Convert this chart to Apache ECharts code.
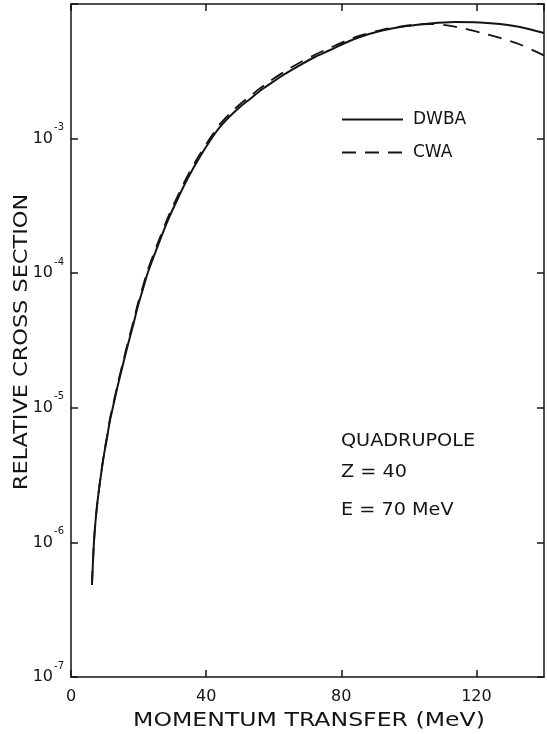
<!DOCTYPE html>
<html>
<head>
<meta charset="utf-8">
<script src="https://cdn.jsdelivr.net/npm/echarts@6/dist/echarts.min.js"></script>
<style>
  html, body { margin: 0; padding: 0; background: #fff; }
  #chart { width: 547px; height: 734px; }
</style>
</head>
<body>
<div id="chart"></div>
<script>
// momentum transfer (MeV)
const momentum = [6.2, 6.8, 7.4, 8, 8.9, 9.8, 10.7, 11.5, 12.4, 13.9, 15.4, 16.9, 18.4, 19.8, 21.3, 22.8, 25.8, 28.7, 31.7, 34.6, 37.6, 41.1, 44.1, 47.1, 50, 53, 55.9, 58.9, 61.9, 64.8, 67.8, 72.2, 76.7, 81.1, 85.5, 91.5, 97.4, 106.3, 113.6, 121, 127, 132.9, 140]
// relative cross section, DWBA (solid)
const dwba = [4.83e-7, 1.01e-6, 1.57e-6, 2.17e-6, 3.22e-6, 4.54e-6, 6.07e-6, 7.98e-6, 1.01e-5, 1.48e-5, 2.11e-5, 2.98e-5, 4.12e-5, 5.7e-5, 7.64e-5, 1.02e-4, 1.62e-4, 2.48e-4, 3.62e-4, 5.09e-4, 6.93e-4, 9.59e-4, 1.22e-3, 1.47e-3, 1.72e-3, 1.97e-3, 2.26e-3, 2.55e-3, 2.87e-3, 3.18e-3, 3.52e-3, 4.04e-3, 4.55e-3, 5.13e-3, 5.69e-3, 6.3e-3, 6.75e-3, 7.16e-3, 7.35e-3, 7.29e-3, 7.1e-3, 6.75e-3, 6.09e-3]
// relative cross section, CWA (dashed)
const cwa = [4.83e-7, 1.01e-6, 1.57e-6, 2.17e-6, 3.25e-6, 4.6e-6, 6.2e-6, 8.2e-6, 1.04e-5, 1.53e-5, 2.19e-5, 3.1e-5, 4.3e-5, 5.95e-5, 8.0e-5, 1.07e-4, 1.7e-4, 2.6e-4, 3.8e-4, 5.35e-4, 7.28e-4, 1.0e-3, 1.28e-3, 1.54e-3, 1.8e-3, 2.06e-3, 2.36e-3, 2.67e-3, 3.0e-3, 3.33e-3, 3.68e-3, 4.2e-3, 4.72e-3, 5.3e-3, 5.83e-3, 6.38e-3, 6.8e-3, 7.1e-3, 6.8e-3, 6.15e-3, 5.6e-3, 5.0e-3, 4.15e-3]
const xTicks = [0, 40, 80, 120]
const notes = ['QUADRUPOLE', 'Z = 40', 'E = 70 MeV']

const font = 'DejaVu Sans'
const ink = '#141414'

const pairs = (ys) => momentum.map((x, i) => [x, ys[i]])

// every side of the box gets an axis line and short inward ticks
const frame = () => ({
  axisLine: { show: true, onZero: false, lineStyle: { color: ink, width: 1.5 } },
  axisTick: { show: true, inside: true, length: 7, lineStyle: { color: ink, width: 1.5 } },
  splitLine: { show: false }
})

const option = {
  backgroundColor: '#fff',
  animation: false,
  grid: { left: 71, right: 3, top: 4, bottom: 57 },
  legend: {
    orient: 'vertical',
    left: 341,
    top: 111,
    padding: 0,
    itemWidth: 61,
    itemHeight: 14,
    itemGap: 16,
    itemStyle: { opacity: 0 },
    textStyle: { fontFamily: font, fontSize: 17, color: ink, padding: [0, 0, 0, 5] },
    data: ['DWBA', 'CWA']
  },
  xAxis: [
    Object.assign({
      type: 'value', min: 0, max: 140, interval: 40, position: 'bottom',
      axisLabel: {
        margin: 12, fontFamily: font, fontSize: 16, color: ink, showMaxLabel: false,
        formatter: (v) => xTicks.indexOf(v) >= 0 ? String(v) : ''
      }
    }, frame()),
    Object.assign({
      type: 'value', min: 0, max: 140, interval: 40, position: 'top',
      axisLabel: { show: false }
    }, frame())
  ],
  yAxis: [
    Object.assign({
      type: 'log', logBase: 10, min: 1e-7, max: 1e-2, position: 'left',
      axisLabel: {
        margin: 7,
        formatter: (v) => {
          const e = Math.round(Math.log10(v))
          return e === -2 ? '' : '{b|10}{s|' + e + '}'
        },
        rich: {
          b: { fontFamily: font, fontSize: 16, lineHeight: 16, color: ink, verticalAlign: 'bottom' },
          s: { fontFamily: font, fontSize: 10, lineHeight: 10, color: ink, verticalAlign: 'bottom', padding: [0, 0, 14, 1] }
        }
      }
    }, frame()),
    Object.assign({
      type: 'log', logBase: 10, min: 1e-7, max: 1e-2, position: 'right',
      axisLabel: { show: false }
    }, frame())
  ],
  graphic: [
    {
      type: 'text', x: 309, y: 721, scaleX: 1.18,
      style: { text: 'MOMENTUM TRANSFER (MeV)', font: '20px "DejaVu Sans"', fill: ink, align: 'center', verticalAlign: 'middle' }
    },
    {
      type: 'text', x: 22, y: 342, rotation: Math.PI / 2, scaleX: 1.12,
      style: { text: 'RELATIVE CROSS SECTION', font: '20px "DejaVu Sans"', fill: ink, align: 'center', verticalAlign: 'middle' }
    },
    {
      type: 'text', x: 341, y: 442, scaleX: 1.13,
      style: { text: notes[0], font: '17px "DejaVu Sans"', fill: ink, align: 'left', verticalAlign: 'middle' }
    },
    {
      type: 'text', x: 341, y: 473, scaleX: 1.13,
      style: { text: notes[1], font: '17px "DejaVu Sans"', fill: ink, align: 'left', verticalAlign: 'middle' }
    },
    {
      type: 'text', x: 341, y: 511, scaleX: 1.13,
      style: { text: notes[2], font: '17px "DejaVu Sans"', fill: ink, align: 'left', verticalAlign: 'middle' }
    }
  ],
  series: [
    {
      name: 'DWBA',
      type: 'line',
      smooth: 0.3,
      symbol: 'none',
      lineStyle: { color: ink, width: 2 },
      itemStyle: { color: ink },
      data: pairs(dwba)
    },
    {
      name: 'CWA',
      type: 'line',
      smooth: 0.3,
      symbol: 'none',
      lineStyle: { color: ink, width: 1.8, type: [14, 9] },
      itemStyle: { color: ink },
      data: pairs(cwa)
    }
  ]
}

const chart = echarts.init(document.getElementById('chart'))
chart.setOption(option)
window.addEventListener('resize', () => chart.resize())
</script>
</body>
</html>
